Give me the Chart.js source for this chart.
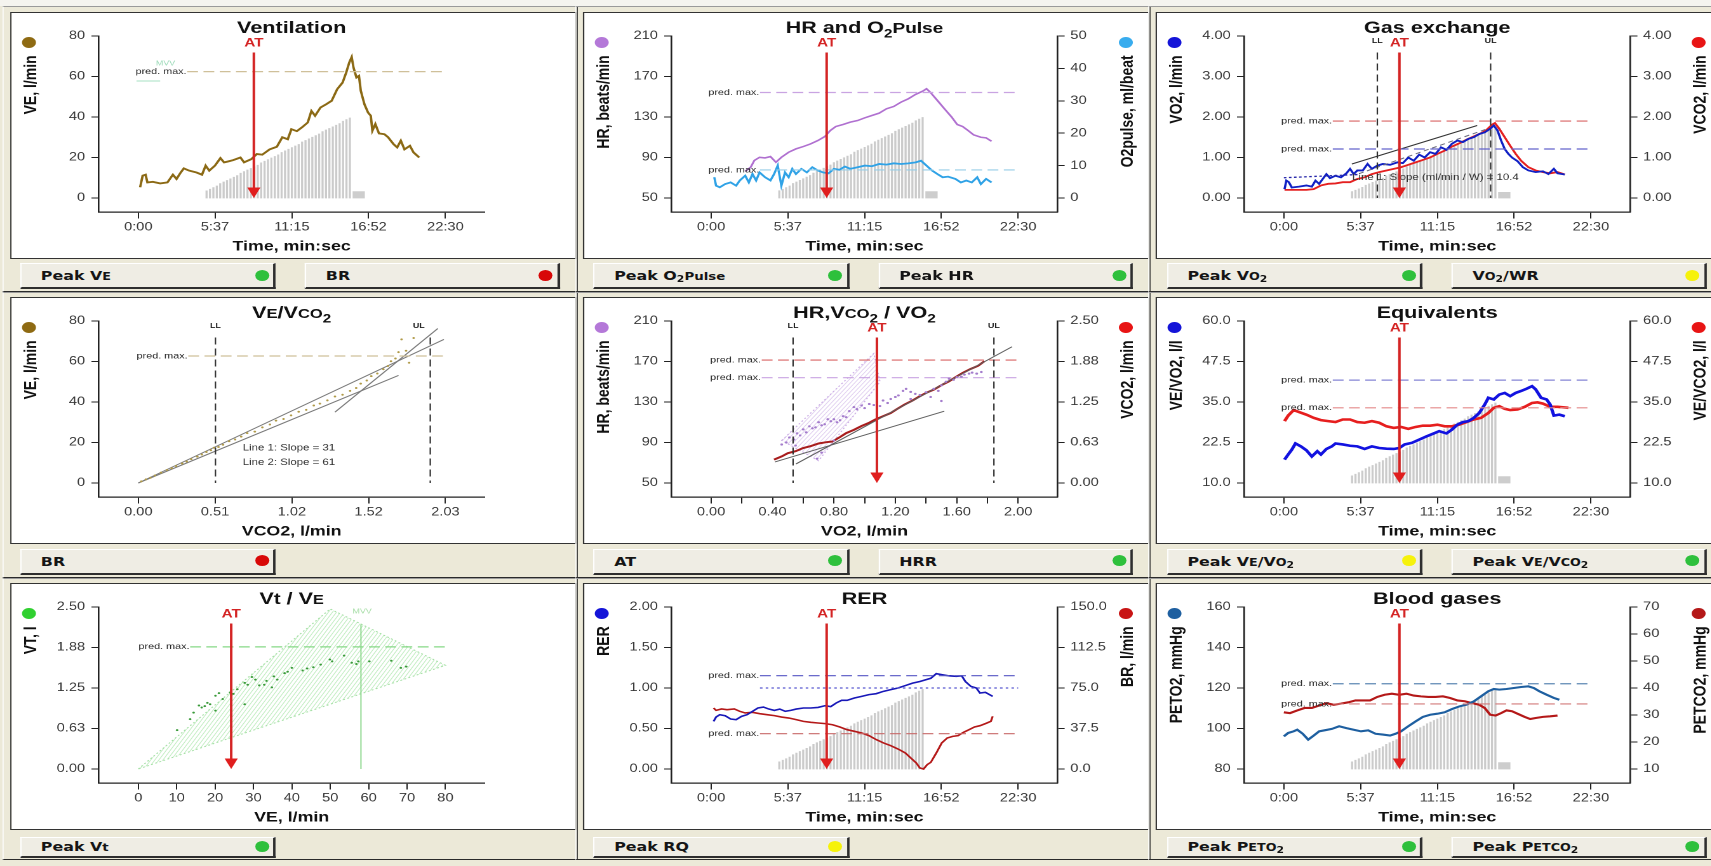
<!DOCTYPE html>
<html><head><meta charset="utf-8">
<script src="https://cdn.jsdelivr.net/npm/chart.js@4.4.1/dist/chart.umd.min.js"></script>
<style>
html,body{margin:0;padding:0;background:#ECE9D8;overflow:hidden;width:1711px;height:866px;}
#page{position:absolute;left:0;top:0;width:1348px;height:866px;transform:scaleX(1.27);transform-origin:0 0;}
#strip{position:absolute;left:0;top:0;width:1348px;height:5.5px;background:#F5F4EF;}
.cell{position:absolute;box-sizing:border-box;border-right:1.5px solid #2a2a2a;border-bottom:1.5px solid #2a2a2a;border-left:1px solid #fbfbf8;border-top:1.5px solid #9a9a9a;}
.frame{position:absolute;background:#fff;outline:1.4px solid #333;}
.frame canvas{position:absolute;left:0;top:0;}
.btn{position:absolute;box-sizing:border-box;background:#EFEDE4;border-top:1px solid #fff;border-left:1px solid #fff;border-right:2px solid #2e2e2e;border-bottom:2px solid #2e2e2e;font:bold 12.5px "DejaVu Sans",sans-serif;color:#151515;padding-left:15.5px;display:flex;align-items:center;white-space:nowrap;}
.btn .dot{position:absolute;right:3.5px;top:50%;width:11px;height:11px;margin-top:-6px;border-radius:50%;}
.sc{font-size:10px;}
.pl{font-size:10.5px;}
.btn sub{font-size:8.5px;position:relative;top:2px;vertical-align:baseline;}
</style></head><body><div id="page"><div id="strip"></div></div>
<script>
// ---------- common ticks ----------
const TIME_TICKS = [0, 337, 675, 1012, 1350];
const TIME_LABELS = ['0:00', '5:37', '11:15', '16:52', '22:30'];
const PRED_TX = [215, 1350];
const AT_TIME = 508;

// work-rate ramp (W) shown as grey bars
const WR_T = [300,315,330,345,360,375,390,405,420,435,450,465,480,495,510,525,540,555,570,585,600,615,630,645,660,675,690,705,720,735,750,765,780,795,810,825,840,855,870,885,900,915,930];
const WR_W = [9,11,13,15,18,20,22,24,26,28,31,33,35,37,39,41,44,46,48,50,52,54,57,59,61,63,65,67,70,72,74,76,78,80,83,85,87,89,91,93,96,98,100];
const REC_T = [969];
const REC_W = [8];

// ---------- Panel 1: Ventilation ----------
const VE_TICKS = [0, 20, 40, 60, 80];
const VE_LABELS = ['0', '20', '40', '60', '80'];
const VE_T = [8,19,32,40,64,96,128,152,168,184,200,224,256,280,296,312,337,361,377,393,417,449,465,497,521,545,577,609,633,657,673,697,721,745,761,777,801,826,850,874,898,914,927,938,946,959,970,978,994,1010,1022,1029,1042,1058,1082,1098,1122,1138,1154,1170,1194,1210,1235];
const VE_V = [5.3,11,11.5,7.7,8,7.2,7.7,11.5,9.4,12.2,14.6,13.5,12.6,11.5,16,13.5,16,19.7,17.6,18,18.7,20,17.6,19.2,21.7,21.4,24,25.3,30,29,34,33,35,37.3,43,40.6,44.7,46.3,48,53.7,57,62,66.8,69.6,64.4,59.5,60.3,53,46.3,42.2,40.6,33.2,36.5,31.9,31.5,30,26.6,25,28.3,24,25.8,22.5,20];
const VE_PRED = 62.4;
const MVV1_T = [-8, 96];
const MVV1_V = [57.8, 57.8];

// ---------- Panel 2: HR and O2 pulse ----------
const HR_TICKS = [50, 90, 130, 170, 210];
const HR_LABELS = ['50', '90', '130', '170', '210'];
const O2P_TICKS = [0, 10, 20, 30, 40, 50];
const O2P_LABELS = ['0', '10', '20', '30', '40', '50'];
const HR_T = [150,174,190,213,237,261,285,309,341,373,405,437,469,500,524,548,580,612,644,676,707,739,771,803,835,867,899,931,947,963,995,1026,1058,1082,1106,1130,1154,1186,1209,1233];
const HR_V = [76.4,80.4,87,90.2,89.6,90.9,85.3,90.2,95.2,98.5,100.8,103.4,106.7,110.7,116.6,120.6,122.6,124.9,126.5,129.2,131.5,133.8,138.1,140.4,144.7,148,152.3,155.6,157.9,154.6,146.3,138.1,129.8,122.6,120.6,116.6,112.4,110,109.4,106.1];
const O2P_T = [14,22,38,62,86,110,126,150,166,182,198,213,237,261,277,293,309,325,341,357,373,397,421,445,469,492,516,540,564,588,612,644,676,707,739,771,803,835,867,899,923,947,971,995,1018,1042,1074,1098,1122,1146,1170,1186,1209,1233];
const O2P_V = [6.4,3.8,3.3,4.3,4.8,3.8,5.4,6.9,4.8,7.4,5.4,7.9,6.4,5.4,7.4,10,3.8,7.9,6.4,9,7.4,9,7.9,9.5,8.5,7.9,7.6,9,8.7,9.7,9,9.5,10,9.8,10.5,10.3,10.7,10.5,10.7,11,11.5,10,8.5,7.4,6.4,6.6,5.9,4.8,5.4,4.8,6.4,4.3,5.9,4.8];
const HR_PRED = 154.2;
const O2P_PRED = 8.66;

// ---------- Panel 3: Gas exchange ----------
const GX_TICKS = [0, 1, 2, 3, 4];
const GX_LABELS = ['0.00', '1.00', '2.00', '3.00', '4.00'];
const VO2_T = [3,11,22,35,67,99,123,139,155,171,187,203,227,251,275,291,307,323,347,368,387,411,435,467,499,523,547,571,595,619,643,667,691,715,739,763,787,811,835,859,883,907,923,939,955,971,987,1003,1027,1051,1075,1107,1139,1163,1187,1203,1235];
const VO2_V = [0.22,0.43,0.39,0.26,0.28,0.31,0.28,0.43,0.35,0.47,0.59,0.49,0.55,0.51,0.61,0.72,0.59,0.68,0.68,0.84,0.72,0.8,0.84,0.82,0.88,0.86,1.0,0.92,1.07,1.0,1.13,1.09,1.25,1.19,1.34,1.42,1.38,1.46,1.5,1.58,1.62,1.71,1.79,1.67,1.42,1.21,1.09,1.0,0.91,0.76,0.68,0.64,0.66,0.59,0.72,0.61,0.58];
const VCO2_T = [3,35,99,131,163,195,227,259,291,323,355,387,419,451,483,515,547,579,611,643,675,707,739,771,803,835,867,891,915,928,947,971,995,1019,1043,1075,1107,1139,1171,1203,1235];
const VCO2_V = [0.2,0.2,0.2,0.22,0.31,0.35,0.36,0.39,0.39,0.47,0.51,0.59,0.64,0.68,0.72,0.76,0.82,0.88,0.94,1.0,1.09,1.17,1.27,1.35,1.44,1.52,1.6,1.68,1.81,1.85,1.71,1.5,1.29,1.09,0.92,0.76,0.68,0.64,0.61,0.64,0.58];
const P3_FIT_T = [299, 850], P3_FIT_V = [0.84, 1.79];
const P3_BASE_T = [0, 330], P3_BASE_V = [0.50, 0.58];
const P3_SLOPE_T = [330, 900], P3_SLOPE_V = [0.60, 1.72];
const VCO2_PRED = 1.9, VO2_PRED = 1.21;
const GX_LL = 411, GX_UL = 909;

// ---------- Panel 4: VE / VCO2 ----------
const P4_TICKS = [0, 0.5075, 1.015, 1.5225, 2.03];
const P4_LABELS = ['0.00', '0.51', '1.02', '1.52', '2.03'];
const P4_X = [0.02,0.05,0.08,0.11,0.15,0.19,0.22,0.25,0.29,0.32,0.35,0.39,0.42,0.45,0.48,0.50,0.53,0.56,0.60,0.64,0.68,0.72,0.77,0.82,0.87,0.91,0.96,1.01,1.06,1.11,1.16,1.20,1.25,1.30,1.35,1.40,1.44,1.47,1.51,1.54,1.58,1.62,1.65,1.67,1.70,1.72,1.74,1.77,1.79,1.82];
const P4_Y = [0.8,1.8,2.6,3.7,5.1,6.4,7.3,8.4,9.6,10.6,11.8,13.0,14.1,15.3,16.2,17.4,17.8,18.9,20.6,21.5,22.9,24.6,25.4,27.5,28.9,30.8,31.6,33.4,35.2,36.1,38.3,39.2,40.8,42.7,43.6,45.5,46.9,49.1,50.6,52.8,54.1,56.2,57.8,60.1,61.5,64.6,70.9,65.3,59.4,71.6];
const P4_L0_X = [0, 2.02], P4_L0_Y = [0, 70.9];
const P4_L1_X = [0, 1.72], P4_L1_Y = [0, 53.1];
const P4_L2_X = [1.30, 1.98], P4_L2_Y = [35, 76.3];
const P4_PRED = 62.7;

// ---------- Panel 5: HR, VCO2 / VO2 ----------
const P5_TICKS = [0, 0.2, 0.4, 0.6, 0.8, 1.0, 1.2, 1.4, 1.6, 1.8, 2.0];
const P5_LABELS = ['0.00', '', '0.40', '', '0.80', '', '1.20', '', '1.60', '', '2.00'];
const P5R_TICKS = [0, 0.625, 1.25, 1.875, 2.5];
const P5R_LABELS = ['0.00', '0.63', '1.25', '1.88', '2.50'];
const P5HR_X = [0.46,0.49,0.51,0.54,0.55,0.56,0.58,0.60,0.62,0.64,0.66,0.68,0.69,0.70,0.72,0.72,0.74,0.76,0.78,0.80,0.80,0.82,0.84,0.86,0.88,0.90,0.93,0.95,0.98,1.00,1.03,1.06,1.08,1.10,1.12,1.15,1.17,1.20,1.22,1.25,1.27,1.30,1.30,1.33,1.36,1.40,1.43,1.45,1.48,1.50,1.50,1.53,1.55,1.58,1.60,1.63,1.65,1.68,1.70,1.73,1.76];
const P5HR_Y = [88,90,95,93,87,99,97,103,100,106,104,105,74,110,107,80,108,113,111,113,92,110,112,116,115,121,125,123,126.5,124,128,127,130,126,131.5,129,133,135,136.5,141,143,140,133,138,137,139.7,135,143,141,146.4,131,150,153,152,154.6,155,157,158,159,158,159.6];
const P5C_X = [0.41,0.46,0.50,0.55,0.60,0.65,0.70,0.75,0.79,0.84,0.88,0.93,0.98,1.03,1.07,1.12,1.17,1.21,1.26,1.31,1.36,1.40,1.45,1.50,1.55,1.59,1.64,1.69,1.74,1.78];
const P5C_Y = [0.36,0.41,0.46,0.49,0.54,0.57,0.61,0.63,0.64,0.71,0.77,0.82,0.88,0.93,0.98,1.03,1.08,1.14,1.21,1.27,1.34,1.39,1.44,1.51,1.57,1.63,1.70,1.76,1.81,1.88];
const P5_L1_X = [0.416, 1.519], P5_L1_Y = [0.325, 1.108];
const P5_L2_X = [0.553, 1.96], P5_L2_Y = [0.294, 2.103];
const P5_HATCH = [[0.46, 92], [1.06, 178], [1.10, 150], [0.70, 72]];
const P5_AT = 1.08, P5_LL = 0.534, P5_UL = 1.842;

// ---------- Panel 6: Equivalents ----------
const EQ_TICKS = [10, 22.5, 35, 47.5, 60];
const EQ_LABELS = ['10.0', '22.5', '35.0', '47.5', '60.0'];
const EQO2_T = [3,19,35,51,75,99,123,147,163,187,211,227,259,291,323,355,387,419,451,483,507,531,563,595,627,659,683,715,739,763,787,811,835,859,883,899,923,947,971,995,1019,1043,1067,1091,1107,1131,1155,1171,1187,1211,1235];
const EQO2_V = [17.2,18.8,20.3,22.2,21.3,20.1,18.2,19.8,18.8,20.5,21.3,22.2,21.9,21.5,21.3,20.5,21.3,20.8,20.6,20.5,20.8,21.9,22.4,23.4,24.4,25.3,26,25.3,26.5,28,28.8,29.1,30.1,31.6,34.2,36.3,35.8,37.3,37.8,36.8,37.8,38.4,39.1,39.9,38.9,36.3,35.8,34.2,30.8,31.1,30.6];
const EQCO2_T = [3,19,43,67,99,131,163,195,227,259,291,323,355,387,419,451,483,515,547,579,611,643,675,707,739,771,803,835,867,899,923,947,971,995,1027,1059,1091,1115,1139,1171,1203,1251];
const EQCO2_V = [29.1,30.8,32.5,31.9,31.1,30.1,29.4,29.1,28.8,29.6,29.6,28.8,28.6,29.1,28.6,27.5,27,27.3,26.7,27.3,27.7,27.7,28,27.5,27.5,28,28.8,29.6,30.1,31.6,33.2,33.7,32.9,32.5,32.7,33.5,34.7,34.9,34.5,33.5,33.5,33.2];
const EQO2_PRED = 41.75, EQCO2_PRED = 33.2;

// ---------- Panel 7: Vt / VE ----------
const P7X_TICKS = [0, 10, 20, 30, 40, 50, 60, 70, 80];
const P7X_LABELS = ['0', '10', '20', '30', '40', '50', '60', '70', '80'];
const VT_TICKS = [0, 0.625, 1.25, 1.875, 2.5];
const VT_LABELS = ['0.00', '0.63', '1.25', '1.88', '2.50'];
const P7_X = [10.1,13.5,14.4,15.8,16.5,17.3,18.0,18.7,20.1,20.1,21.0,22.0,23.9,24.8,25.8,27.7,27.7,28.5,29.6,30.5,31.5,32.8,33.4,34.8,35.3,36.2,38.1,38.9,40.0,42.8,44.0,45.6,47.5,49.9,50.5,53.6,55.6,56.8,57.3,60.2,65.9,68.4,69.8];
const P7_Y = [0.60,0.77,0.87,0.98,0.95,0.97,1.02,1.00,1.13,0.90,1.17,1.08,1.18,1.16,1.23,1.33,1.00,1.30,1.42,1.38,1.29,1.30,1.36,1.26,1.43,1.38,1.48,1.50,1.56,1.52,1.55,1.57,1.61,1.69,1.66,1.75,1.64,1.62,1.66,1.66,1.67,1.56,1.58];
const P7_HATCH = [[0, 0], [50, 2.47], [80, 1.6]];
const MVV7_X = [58, 58], MVV7_Y = [0, 2.23];
const VT_PRED = 1.885, P7_AT = 24.2;

// ---------- Panel 8: RER ----------
const RER_TICKS = [0, 0.5, 1, 1.5, 2];
const RER_LABELS = ['0.00', '0.50', '1.00', '1.50', '2.00'];
const BR_TICKS = [0, 37.5, 75, 112.5, 150];
const BR_LABELS = ['0.0', '37.5', '75.0', '112.5', '150.0'];
const RER_T = [11,22,38,62,86,110,134,158,182,206,230,254,278,302,326,350,374,406,438,470,502,526,550,574,598,630,662,694,726,758,790,822,854,886,918,942,966,990,1014,1046,1078,1102,1118,1142,1166,1182,1206,1238];
const RER_V = [0.588,0.642,0.67,0.658,0.617,0.609,0.65,0.67,0.712,0.753,0.765,0.74,0.724,0.74,0.712,0.724,0.74,0.753,0.753,0.76,0.782,0.77,0.815,0.848,0.848,0.877,0.897,0.918,0.93,0.959,0.98,1.0,1.03,1.06,1.08,1.1,1.12,1.177,1.165,1.15,1.144,1.15,1.08,1.02,1.0,0.938,0.947,0.897];
const BR_T = [11,22,46,70,102,126,150,182,214,246,278,310,342,374,406,438,470,502,534,566,598,630,662,694,726,758,790,822,854,878,902,918,934,950,966,990,1014,1038,1062,1086,1110,1134,1158,1182,1206,1230,1238];
const BR_V = [56.5,54.3,55.6,54.9,55.6,53.4,51.9,52.5,51.2,50.3,49.4,48.1,47.2,45.7,44.1,43.2,42.6,42,41,38.9,36.4,34.9,33.3,30.9,27.2,24.1,21.6,18.5,14.8,10.2,5.6,0.9,0,4,6.2,14.8,24.1,28.7,30.2,30.9,34,36.4,38.9,40.1,42,44.1,48.8];
const RER_PRED = 1.152, RER_REF = 1.0, BR_PRED = 32.7;

// ---------- Panel 9: Blood gases ----------
const PO2_TICKS = [80, 100, 120, 140, 160];
const PO2_LABELS = ['80', '100', '120', '140', '160'];
const PCO2_TICKS = [10, 20, 30, 40, 50, 60, 70];
const PCO2_LABELS = ['10', '20', '30', '40', '50', '60', '70'];
const PO2_T = [0,19,43,59,83,107,131,155,179,211,243,275,307,339,371,403,435,467,491,515,547,579,611,643,675,707,739,771,803,835,867,899,923,947,979,1011,1043,1075,1099,1123,1155,1187,1211];
const PO2_V = [96.1,97.8,98.6,99.4,97.4,94.5,96.5,98.6,99.1,99.8,101.1,100.2,99.4,98.6,99.1,97.4,97,96.5,97.4,98.6,101.1,103.5,105.7,106.8,107.3,108,109.6,110.9,111.8,113.4,115.9,118.4,119.5,119.2,119.5,120,120.5,120.8,120,118.4,116.7,115.1,114.2];
const PCO2_T = [0,27,59,91,123,155,187,219,251,283,315,347,379,411,443,475,507,539,571,603,635,667,699,731,763,795,827,859,883,907,931,955,979,1003,1027,1059,1083,1107,1139,1171,1203];
const PCO2_V = [31,30.7,31.7,32.6,32.6,33.5,34.4,33.8,34.2,34.7,35.4,35.4,35.4,36.7,37.5,37.9,37.5,37.9,37.2,36.9,36.7,36.7,36.9,36.3,35.4,35.1,34.4,33.8,32.6,30.1,29.8,30.7,31.7,31.4,30.5,29.3,28.5,28.9,29.3,29.5,29.8];
const PO2_PRED = 122.1, PCO2_PRED = 34.1;

// ---------- layout (natural units, page is stretched by S horizontally) ----------
const S = 1.27;
const FW = 444, FH = 245;
const CA = {left: 68.7, right: 372.6, top: 23, base: 185, bottom: 199};
const TICK0 = 99.9, TICK1 = 341.7;
const COL_X = [10.9, 584.2, 1157.5];
const ROW_Y = [12.7, 298.3, 584];
const CELL_Y = [5.5, 291.5, 577.5];
const CELL_H = [286, 286, 282];
const BTN_Y = [250.5, 250.5, 252.5];
const BTN_H = [26, 26, 21];
const FONT = "'Liberation Sans', Arial, sans-serif";
const GREEN = '#2EC03C', RED = '#D80808', YELLOW = '#F6F20A';

const xy = (X, Y) => X.map((x, i) => ({x: x, y: Y[i]}));
const line = (X, Y, color, width, axis, extra) => Object.assign({
  type: 'line', data: xy(X, Y), borderColor: color, borderWidth: width,
  pointRadius: 0, fill: false, tension: 0, yAxisID: axis || 'y', order: 1
}, extra || {});
const dots = (X, Y, color, r, axis) => ({
  type: 'scatter', data: xy(X, Y), backgroundColor: color, borderWidth: 0,
  pointRadius: r, yAxisID: axis || 'y', order: 0
});

const PANELS = [
  { title: [{t: 'Ventilation'}],
    x: {ticks: TIME_TICKS, labels: TIME_LABELS, title: 'Time, min:sec'},
    y: {ticks: VE_TICKS, labels: VE_LABELS, title: 'VE, l/min', dot: '#8E6A12'},
    ramp: {px: 80, block: true}, at: AT_TIME, predX: PRED_TX,
    preds: [{axis: 'y', v: VE_PRED, color: '#CFC09A'}],
    sets: () => [line(VE_T, VE_V, '#8B6914', 1.9), line(MVV1_T, MVV1_V, '#A6E0C2', 1)],
    texts: [{x: 120, y: 66.5, axis: 'y', text: 'MVV', size: 7, color: '#9CDAB8'}],
    btns: [['Peak V<span class="sc">E</span>', GREEN], ['BR', RED]] },
  { title: [{t: 'HR and O'}, {t: '2', sub: true}, {t: 'Pulse', size: 15}],
    x: {ticks: TIME_TICKS, labels: TIME_LABELS, title: 'Time, min:sec'},
    y: {ticks: HR_TICKS, labels: HR_LABELS, title: 'HR, beats/min', dot: '#B478D8'},
    y2: {ticks: O2P_TICKS, labels: O2P_LABELS, title: 'O2pulse, ml/beat', dot: '#38ACEE'},
    ramp: {px: 80.5, block: true}, at: AT_TIME, predX: PRED_TX,
    preds: [{axis: 'y', v: HR_PRED, color: '#C9A4E2'}, {axis: 'y2', v: O2P_PRED, color: '#96CDE6'}],
    sets: () => [line(HR_T, HR_V, '#B070D0', 1.6), line(O2P_T, O2P_V, '#2FA2E6', 1.8, 'y2')],
    btns: [['Peak O<sub>2</sub><span class="pl">Pulse</span>', GREEN], ['Peak HR', GREEN]] },
  { title: [{t: 'Gas exchange'}],
    x: {ticks: TIME_TICKS, labels: TIME_LABELS, title: 'Time, min:sec'},
    y: {ticks: GX_TICKS, labels: GX_LABELS, title: 'VO2, l/min', dot: '#1414D8'},
    y2: {ticks: GX_TICKS, labels: GX_LABELS, title: 'VCO2, l/min', dot: '#E81414'},
    ramp: {px: 71, block: true}, at: AT_TIME, predX: PRED_TX,
    preds: [{axis: 'y2', v: VCO2_PRED, color: '#D86464'}, {axis: 'y', v: VO2_PRED, color: '#6464CC'}],
    vlines: [{x: GX_LL, label: 'LL'}, {x: GX_UL, label: 'UL'}],
    sets: () => [
      line(P3_FIT_T, P3_FIT_V, '#333', 1),
      line(P3_BASE_T, P3_BASE_V, '#2424A8', 1.3, 'y', {borderDash: [2, 2]}),
      line(P3_SLOPE_T, P3_SLOPE_V, '#6C6C7C', 1, 'y', {borderDash: [4, 3]}),
      line(VO2_T, VO2_V, '#1020C4', 1.8),
      line(VCO2_T, VCO2_V, '#E42020', 1.8, 'y2')],
    texts: [{x: 300, y: 0.51, axis: 'y', text: 'Line 1: Slope (ml/min / W) = 10.4', size: 9, color: '#333', align: 'left'}],
    btns: [['Peak V<span class="sc">O</span><sub>2</sub>', GREEN], ['V<span class="sc">O</span><sub>2</sub>/WR', YELLOW]] },
  { title: [{t: 'V'}, {t: 'E', size: 13}, {t: '/V'}, {t: 'CO', size: 13}, {t: '2', sub: true}],
    x: {ticks: P4_TICKS, labels: P4_LABELS, title: 'VCO2, l/min'},
    y: {ticks: VE_TICKS, labels: VE_LABELS, title: 'VE, l/min', dot: '#8E6A12'},
    predX: [0.33, 2.03],
    preds: [{axis: 'y', v: P4_PRED, color: '#CFC09A'}],
    vlines: [{x: 0.51, label: 'LL'}, {x: 1.93, label: 'UL', dx: -9}],
    sets: () => [
      line(P4_L0_X, P4_L0_Y, '#7A7A7A', 1),
      line(P4_L1_X, P4_L1_Y, '#7A7A7A', 1),
      line(P4_L2_X, P4_L2_Y, '#7A7A7A', 1),
      dots(P4_X, P4_Y, '#B09A48', 1)],
    texts: [{x: 0.69, y: 17.3, axis: 'y', text: 'Line 1: Slope = 31', size: 9, color: '#333', align: 'left'},
            {x: 0.69, y: 10.2, axis: 'y', text: 'Line 2: Slope = 61', size: 9, color: '#333', align: 'left'}],
    btns: [['BR', RED]] },
  { title: [{t: 'HR,V'}, {t: 'CO', size: 13}, {t: '2', sub: true}, {t: ' / V'}, {t: 'O'}, {t: '2', sub: true}],
    x: {ticks: P5_TICKS, labels: P5_LABELS, title: 'VO2, l/min'},
    y: {ticks: HR_TICKS, labels: HR_LABELS, title: 'HR, beats/min', dot: '#B478D8'},
    y2: {ticks: P5R_TICKS, labels: P5R_LABELS, title: 'VCO2, l/min', dot: '#E81414'},
    at: P5_AT, predX: [0.33, 2.0],
    preds: [{axis: 'y2', v: 1.897, color: '#D86464'}, {axis: 'y', v: 154, color: '#C9A4E2'}],
    vlines: [{x: P5_LL, label: 'LL'}, {x: P5_UL, label: 'UL'}],
    hatch: [{axis: 'y', poly: P5_HATCH, color: 'rgba(196,164,226,0.55)', lean: 0.75, gap: 3.4, edge: '#CDB0E6'}],
    sets: () => [
      dots(P5HR_X, P5HR_Y, '#A47CCC', 1.1),
      line(P5_L1_X, P5_L1_Y, '#5E5E5E', 1, 'y2'),
      line(P5_L2_X, P5_L2_Y, '#5E5E5E', 1, 'y2'),
      line(P5C_X, P5C_Y, '#A81C1C', 2, 'y2')],
    btns: [['AT', GREEN], ['HRR', GREEN]] },
  { title: [{t: 'Equivalents'}],
    x: {ticks: TIME_TICKS, labels: TIME_LABELS, title: 'Time, min:sec'},
    y: {ticks: EQ_TICKS, labels: EQ_LABELS, title: 'VE/VO2, l/l', dot: '#1414D8'},
    y2: {ticks: EQ_TICKS, labels: EQ_LABELS, title: 'VE/VCO2, l/l', dot: '#E81414'},
    ramp: {px: 80, block: true}, at: AT_TIME, predX: PRED_TX,
    preds: [{axis: 'y', v: EQO2_PRED, color: '#8484D4'}, {axis: 'y2', v: EQCO2_PRED, color: '#E48A8A'}],
    sets: () => [line(EQO2_T, EQO2_V, '#1212E0', 2.6), line(EQCO2_T, EQCO2_V, '#E61E1E', 2.6, 'y2')],
    btns: [['Peak V<span class="sc">E</span>/V<span class="sc">O</span><sub>2</sub>', YELLOW],
           ['Peak V<span class="sc">E</span>/V<span class="sc">CO</span><sub>2</sub>', GREEN]] },
  { title: [{t: 'V'}, {t: 't', size: 16}, {t: ' / V'}, {t: 'E', size: 13}],
    x: {ticks: P7X_TICKS, labels: P7X_LABELS, title: 'VE, l/min'},
    y: {ticks: VT_TICKS, labels: VT_LABELS, title: 'VT, l', dot: '#30D030'},
    at: P7_AT, predX: [13.5, 80],
    preds: [{axis: 'y', v: VT_PRED, color: '#86D886'}],
    hatch: [{axis: 'y', poly: P7_HATCH, color: 'rgba(140,220,140,0.55)', lean: 0.6, gap: 3.2, edge: '#A6E0A6'}],
    sets: () => [line(MVV7_X, MVV7_Y, '#90D890', 1), dots(P7_X, P7_Y, '#3A9A3A', 1)],
    texts: [{x: 58.3, y: 2.43, axis: 'y', text: 'MVV', size: 7, color: '#A8DEA8'}],
    btns: [['Peak V<span class="pl">t</span>', GREEN]] },
  { title: [{t: 'RER'}],
    x: {ticks: TIME_TICKS, labels: TIME_LABELS, title: 'Time, min:sec'},
    y: {ticks: RER_TICKS, labels: RER_LABELS, title: 'RER', dot: '#1414D8'},
    y2: {ticks: BR_TICKS, labels: BR_LABELS, title: 'BR, l/min', dot: '#C81414'},
    ramp: {px: 79.5, block: false}, at: AT_TIME, predX: PRED_TX,
    preds: [{axis: 'y', v: RER_PRED, color: '#5656C4'}, {axis: 'y2', v: BR_PRED, color: '#C86A6A'}],
    sets: () => [
      line(PRED_TX, [RER_REF, RER_REF], '#5A5AD0', 1.3, 'y', {borderDash: [2, 2.5]}),
      line(RER_T, RER_V, '#1818B8', 1.6),
      line(BR_T, BR_V, '#B41818', 1.6, 'y2')],
    btns: [['Peak RQ', YELLOW]] },
  { title: [{t: 'Blood gases'}],
    x: {ticks: TIME_TICKS, labels: TIME_LABELS, title: 'Time, min:sec'},
    y: {ticks: PO2_TICKS, labels: PO2_LABELS, title: 'PETO2, mmHg', dot: '#1E5FA0'},
    y2: {ticks: PCO2_TICKS, labels: PCO2_LABELS, title: 'PETCO2, mmHg', dot: '#B41818'},
    ramp: {px: 79.5, block: true}, at: AT_TIME, predX: PRED_TX,
    preds: [{axis: 'y', v: PO2_PRED, color: '#5E88B4'}, {axis: 'y2', v: PCO2_PRED, color: '#D27A7A'}],
    sets: () => [line(PO2_T, PO2_V, '#1E5FA0', 2.1), line(PCO2_T, PCO2_V, '#B41818', 2.1, 'y2')],
    btns: [['Peak P<span class="sc">ETO</span><sub>2</sub>', GREEN], ['Peak P<span class="sc">ETCO</span><sub>2</sub>', GREEN]] }
];

function baseScale(ticks, labels) {
  return {
    type: 'linear', offset: false,
    afterBuildTicks: s => { s.ticks = ticks.map(v => ({value: v})); },
    ticks: {autoSkip: false, maxRotation: 0, minRotation: 0, color: '#383838',
            font: {family: FONT, size: 11.5}, callback: (v, i) => labels[i]},
    grid: {display: true, offset: false, drawOnChartArea: false, drawTicks: true, color: '#222', lineWidth: 1},
    border: {display: true, color: '#222', width: 1.3}
  };
}
function xScale(c) {
  const sc = baseScale(c.ticks, c.labels);
  const a = c.ticks[0], b = c.ticks[c.ticks.length - 1], k = (b - a) / (TICK1 - TICK0);
  sc.min = a - k * (TICK0 - CA.left);
  sc.max = b + k * (CA.right - TICK1);
  sc.position = 'bottom';
  sc.afterFit = s => { s.height = FH - CA.bottom; };
  sc.ticks.padding = 2;
  sc.grid.tickLength = 6.5;
  sc.title = {display: true, text: c.title, color: '#111', font: {family: FONT, size: 14, weight: 'bold'}, padding: {top: 0, bottom: 3}};
  return sc;
}
function yScale(c, pos) {
  const sc = baseScale(c.ticks, c.labels);
  const b = c.ticks[0], T = c.ticks[c.ticks.length - 1];
  sc.min = b - (T - b) * (CA.bottom - CA.base) / (CA.base - CA.top);
  sc.max = T;
  sc.position = pos;
  sc.afterFit = s => { s.width = pos === 'left' ? CA.left : FW - CA.right; };
  sc.ticks.padding = pos === 'left' ? 5 : 4.5;
  sc.grid.tickLength = 5.7;
  return sc;
}

const F = (size, bold) => (bold ? 'bold ' : '') + size + 'px ' + FONT;

function decoPlugin(p) {
  return {
    id: 'deco',
    beforeDatasetsDraw(chart) {
      const ctx = chart.ctx, ca = chart.chartArea, sx = chart.scales.x;
      (p.hatch || []).forEach(h => {
        const sy = chart.scales[h.axis];
        const pts = h.poly.map(q => [sx.getPixelForValue(q[0]), sy.getPixelForValue(q[1])]);
        const path = () => { ctx.beginPath(); pts.forEach((q, i) => i ? ctx.lineTo(q[0], q[1]) : ctx.moveTo(q[0], q[1])); ctx.closePath(); };
        ctx.save();
        ctx.beginPath(); ctx.rect(ca.left, ca.top, ca.right - ca.left, ca.bottom - ca.top); ctx.clip();
        ctx.save(); path(); ctx.clip();
        const xs = pts.map(q => q[0]), ys = pts.map(q => q[1]);
        const x0 = Math.min(...xs), x1 = Math.max(...xs), y0 = Math.min(...ys), y1 = Math.max(...ys), H = y1 - y0;
        ctx.strokeStyle = h.color; ctx.lineWidth = 0.7; ctx.beginPath();
        for (let x = x0 - H * h.lean - 2; x < x1 + 2; x += h.gap) { ctx.moveTo(x, y1); ctx.lineTo(x + H * h.lean, y0); }
        ctx.stroke(); ctx.restore();
        if (h.edge) { ctx.setLineDash([1.5, 2]); ctx.strokeStyle = h.edge; ctx.lineWidth = 1; path(); ctx.stroke(); }
        ctx.restore();
      });
    },
    afterDatasetsDraw(chart) {
      const ctx = chart.ctx, sx = chart.scales.x;
      const yb = chart.scales.y.getPixelForValue(p.y.ticks[0]);
      ctx.save();
      ctx.textBaseline = 'middle';
      (p.preds || []).forEach(q => {
        ctx.font = F(8.5); ctx.fillStyle = '#2a2a2a'; ctx.textAlign = 'right';
        ctx.fillText('pred. max.', sx.getPixelForValue(p.predX[0]) - 0.5, chart.scales[q.axis].getPixelForValue(q.v));
      });
      (p.vlines || []).forEach(v => {
        const x = sx.getPixelForValue(v.x);
        ctx.strokeStyle = '#303030'; ctx.lineWidth = 1.1; ctx.setLineDash([7, 4]);
        ctx.beginPath(); ctx.moveTo(x, 39.5); ctx.lineTo(x, yb); ctx.stroke(); ctx.setLineDash([]);
        ctx.font = F(7, true); ctx.textAlign = 'center'; ctx.fillStyle = '#222';
        ctx.fillText(v.label, x + (v.dx || 0), 28);
      });
      (p.texts || []).forEach(t => {
        ctx.font = F(t.size); ctx.fillStyle = t.color; ctx.textAlign = t.align || 'center';
        ctx.fillText(t.text, sx.getPixelForValue(t.x), chart.scales[t.axis].getPixelForValue(t.y));
      });
      if (p.at != null) {
        const x = sx.getPixelForValue(p.at);
        ctx.strokeStyle = '#D42424'; ctx.lineWidth = 2;
        ctx.beginPath(); ctx.moveTo(x, 39.5); ctx.lineTo(x, yb - 9); ctx.stroke();
        ctx.fillStyle = '#E01E1E';
        ctx.beginPath(); ctx.moveTo(x - 5.2, yb - 10.5); ctx.lineTo(x + 5.2, yb - 10.5); ctx.lineTo(x, yb); ctx.closePath(); ctx.fill();
        ctx.font = F(12, true); ctx.textAlign = 'center'; ctx.fillStyle = '#D42424';
        ctx.fillText('AT', x, 30);
      }
      ctx.restore();
    },
    afterDraw(chart) {
      const ctx = chart.ctx, ca = chart.chartArea;
      ctx.save();
      ctx.textAlign = 'left'; ctx.textBaseline = 'alphabetic'; ctx.fillStyle = '#111';
      const segs = p.title.map(s => ({t: s.t, f: F(s.sub ? 12 : (s.size || 17), true), dy: s.sub ? 4.5 : 0}));
      let tot = 0;
      segs.forEach(s => { ctx.font = s.f; s.w = ctx.measureText(s.t).width; tot += s.w; });
      let x = (ca.left + ca.right) / 2 - tot / 2;
      segs.forEach(s => { ctx.font = s.f; ctx.fillText(s.t, x, 20 + s.dy); x += s.w; });
      const vt = (txt, xx) => {
        ctx.save(); ctx.translate(xx, 42.3); ctx.rotate(-Math.PI / 2);
        ctx.font = F(14, true); ctx.textAlign = 'right'; ctx.textBaseline = 'middle'; ctx.fillStyle = '#111';
        ctx.fillText(txt, 0, 0); ctx.restore();
      };
      vt(p.y.title, 15.7);
      if (p.y2) vt(p.y2.title, 428);
      const dot = (xx, c) => { ctx.beginPath(); ctx.arc(xx, 29.5, 5.5, 0, Math.PI * 2); ctx.fillStyle = c; ctx.fill(); };
      dot(13.8, p.y.dot);
      if (p.y2) dot(426.5, p.y2.dot);
      ctx.restore();
    }
  };
}

const page = document.getElementById('page');
function el(cls, css) {
  const d = document.createElement('div'); d.className = cls;
  Object.keys(css).forEach(k => { d.style[k] = css[k]; });
  page.appendChild(d); return d;
}

PANELS.forEach((p, idx) => {
  const col = idx % 3, row = Math.floor(idx / 3);
  const fx = COL_X[col] / S, fy = ROW_Y[row];
  el('cell', {left: (573 * col + 2) / S + 'px', top: CELL_Y[row] + 'px', width: 575.5 / S + 'px', height: CELL_H[row] + 'px'});
  const frame = el('frame', {left: fx + 'px', top: fy + 'px', width: FW + 'px', height: FH + 'px'});
  const cv = document.createElement('canvas'); cv.width = FW; cv.height = FH; frame.appendChild(cv);
  p.btns.forEach((b, j) => {
    const d = el('btn', {left: (fx + (j ? 231.5 : 7.1)) + 'px', top: (fy + BTN_Y[row]) + 'px',
                         width: (j ? 200.8 : 201.6) + 'px', height: BTN_H[row] + 'px'});
    d.innerHTML = '<span>' + b[0] + '</span><i class="dot" style="background:' + b[1] + '"></i>';
  });
  const ds = [];
  if (p.ramp) {
    ds.push({type: 'bar', data: xy(WR_T, WR_W), xAxisID: 'x', yAxisID: 'wr', backgroundColor: '#CBCBCB', barThickness: 1, grouped: false, order: 10});
    if (p.ramp.block) ds.push({type: 'bar', data: xy(REC_T, REC_W), xAxisID: 'x', yAxisID: 'wr', backgroundColor: '#CDCDCD', barThickness: 9, grouped: false, order: 10});
  }
  (p.preds || []).forEach(q => ds.push(line(p.predX, [q.v, q.v], q.color, 1.2, q.axis, {borderDash: [8.5, 4.3]})));
  p.sets().forEach(d => ds.push(d));
  const scales = {x: xScale(p.x), y: yScale(p.y, 'left')};
  if (p.y2) scales.y2 = yScale(p.y2, 'right');
  if (p.ramp) scales.wr = {type: 'linear', display: false, axis: 'y', position: 'right', offset: false,
                           min: -100 * (CA.bottom - CA.base) / p.ramp.px, max: 100 * (CA.base - CA.top) / p.ramp.px};
  new Chart(cv, {
    type: 'scatter',
    data: {datasets: ds},
    options: {
      responsive: false, animation: false, devicePixelRatio: 2, events: [],
      layout: {padding: {top: CA.top, left: 0, bottom: 0, right: p.y2 ? 0 : FW - CA.right}},
      plugins: {legend: {display: false}, tooltip: {enabled: false}, title: {display: false}},
      scales: scales
    },
    plugins: [decoPlugin(p)]
  });
});
</script></body></html>
